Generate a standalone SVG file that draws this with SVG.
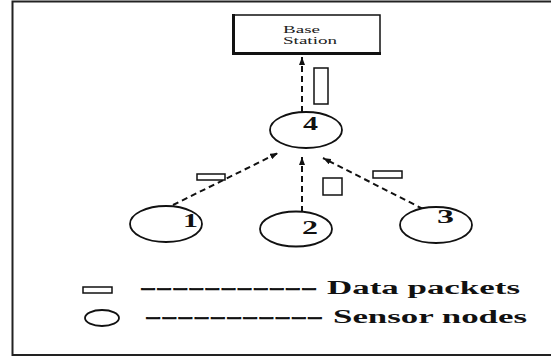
<svg xmlns="http://www.w3.org/2000/svg" width="551" height="357" viewBox="0 0 551 357">
  <style>
    .frame { fill: none; stroke: #222; stroke-width: 2; }
    .box { fill: #fff; stroke: #111; stroke-width: 1.5; }
    .node { fill: #fff; stroke: #111; stroke-width: 1.8; }
    .pkt { fill: #fff; stroke: #111; stroke-width: 1.5; }
    .link { fill: none; stroke: #111; stroke-width: 2; stroke-dasharray: 6 4; marker-end: url(#head); }
    .lbl { font-family: "Liberation Serif", "Times New Roman", serif; font-weight: bold; fill: #111; }
    .rule { stroke: #111; stroke-width: 0.6; }
    .small { font-family: "Liberation Serif", "Times New Roman", serif; font-size: 10px; fill: #222; }
  </style>
  <defs>
    <marker id="head" markerWidth="8" markerHeight="6" refX="8" refY="3" orient="auto" markerUnits="userSpaceOnUse">
      <path d="M0,0 L8,3 L0,6 z" fill="#111"/>
    </marker>
  </defs>

  <rect width="551" height="357" fill="#fff"/>
  <!-- outer frame (right side runs off the canvas) -->
  <rect class="frame" x="12.5" y="1.5" width="560" height="353.5"/>

  <g id="connectors">
    <line class="link" x1="302" y1="112" x2="302" y2="57"/>
    <line class="link" x1="173" y1="205" x2="278" y2="153"/>
    <line class="link" x1="302" y1="212" x2="302" y2="157"/>
    <line class="link" x1="423" y1="209" x2="323" y2="158"/>
  </g>

  <g id="base-station">
    <rect class="box" x="233" y="15" width="147" height="39"/>
    <line x1="233.5" y1="14" x2="233.5" y2="55" stroke="#111" stroke-width="3"/>
    <line x1="232" y1="53.5" x2="381" y2="53.5" stroke="#111" stroke-width="3"/>
    <text class="small" x="283" y="33" textLength="37" lengthAdjust="spacingAndGlyphs">Base</text>
    <text class="small" x="283" y="44" textLength="54" lengthAdjust="spacingAndGlyphs">Station</text>
  </g>

  <g id="node-4">
    <ellipse class="node" cx="306" cy="130" rx="36" ry="18"/>
    <text class="lbl" x="303" y="130" font-size="18" textLength="15" lengthAdjust="spacingAndGlyphs">4</text>
  </g>
  <g id="node-1">
    <ellipse class="node" cx="166" cy="224" rx="36" ry="18"/>
    <text class="lbl" x="183" y="227" font-size="18" textLength="15" lengthAdjust="spacingAndGlyphs">1</text>
  </g>
  <g id="node-2">
    <ellipse class="node" cx="296" cy="229" rx="36" ry="17.5"/>
    <text class="lbl" x="302" y="234" font-size="18" textLength="16" lengthAdjust="spacingAndGlyphs">2</text>
  </g>
  <g id="node-3">
    <ellipse class="node" cx="436" cy="225" rx="36" ry="18"/>
    <text class="lbl" x="437" y="223" font-size="18" textLength="17" lengthAdjust="spacingAndGlyphs">3</text>
  </g>

  <g id="packets">
    <rect class="pkt" x="314" y="68" width="14" height="36"/>
    <rect class="pkt" x="197" y="174" width="28" height="6"/>
    <rect class="pkt" x="323" y="178" width="19" height="17"/>
    <rect class="pkt" x="373" y="171" width="29" height="7"/>
  </g>

  <g id="legend">
    <rect class="pkt" x="83" y="287" width="29" height="6"/>
    <text class="lbl rule" x="140" y="294" font-size="18" textLength="177" lengthAdjust="spacingAndGlyphs">-----------</text>
    <text class="lbl" x="327" y="294" font-size="18" textLength="193" lengthAdjust="spacingAndGlyphs">Data packets</text>
    <ellipse class="node" cx="102" cy="318" rx="17" ry="8"/>
    <text class="lbl rule" x="145" y="323" font-size="18" textLength="178" lengthAdjust="spacingAndGlyphs">-----------</text>
    <text class="lbl" x="333" y="323" font-size="18" textLength="194" lengthAdjust="spacingAndGlyphs">Sensor nodes</text>
  </g>
</svg>
